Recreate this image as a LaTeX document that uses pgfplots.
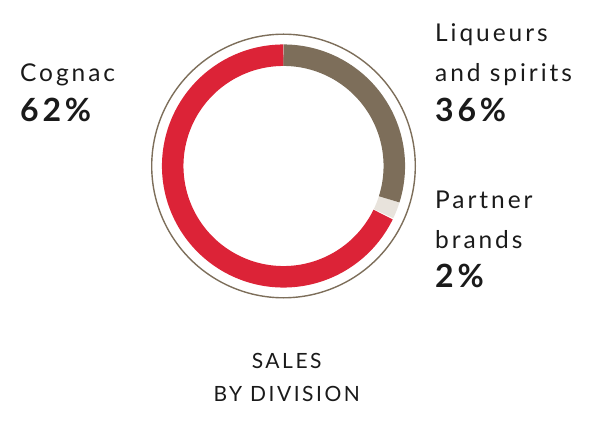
\documentclass[border=0pt]{standalone}
\usepackage{fontspec}
\setmainfont{Lato}[LetterSpace=12]
\usepackage{pgfplots}
\pgfplotsset{compat=1.18}
\definecolor{cred}{HTML}{DC2337}
\definecolor{cbrown}{HTML}{7D6E5A}
\definecolor{clight}{HTML}{E8E3DC}
\definecolor{ctext}{HTML}{1A1A1A}
\begin{document}
\begin{tikzpicture}
\begin{axis}[
  scale only axis, width=600bp, height=425bp,
  xmin=0, xmax=600, ymin=-425, ymax=0,
  enlargelimits=false, hide axis, clip=false,
]
% outer thin ring
\addplot[cbrown, line width=1.4bp, domain=0:360, samples=181] ({283.5+131.8*cos(x)},{-166+131.8*sin(x)});
% Cognac 62% (as drawn)
\addplot[cred, line width=21.5bp, domain=-270:-26, samples=160] ({283.5+110.8*cos(x)},{-166+110.8*sin(x)});
% Partner brands 2%
\addplot[clight, line width=21.5bp, domain=-25.5:-17.5, samples=10] ({283.5+110.8*cos(x)},{-166+110.8*sin(x)});
% Liqueurs and spirits 36%
\addplot[cbrown, line width=21.5bp, domain=-17.5:90, samples=80] ({283.5+110.8*cos(x)},{-166+110.8*sin(x)});
\begin{scope}[every node/.style={anchor=base west, inner sep=0pt, text=ctext}]
\node at (axis cs:20,-82) {\fontsize{24.5bp}{28bp}\selectfont Cognac};
\node at (axis cs:20,-122) {\fontsize{32bp}{34bp}\selectfont\bfseries 62\%};
\node at (axis cs:435,-41.7) {\fontsize{24.5bp}{28bp}\selectfont Liqueurs};
\node at (axis cs:435,-81.7) {\fontsize{24.5bp}{28bp}\selectfont and spirits};
\node at (axis cs:435,-121.7) {\fontsize{32bp}{34bp}\selectfont\bfseries 36\%};
\node at (axis cs:435,-208.3) {\fontsize{24.5bp}{28bp}\selectfont Partner};
\node at (axis cs:435,-248.3) {\fontsize{24.5bp}{28bp}\selectfont brands};
\node at (axis cs:435,-287.7) {\fontsize{32bp}{34bp}\selectfont\bfseries 2\%};
\end{scope}
\begin{scope}[every node/.style={anchor=base, inner sep=0pt, text=ctext}]
\node at (axis cs:286.7,-368.3) {\fontsize{21bp}{24bp}\selectfont SALES};
\node at (axis cs:286.7,-401.7) {\fontsize{21bp}{24bp}\selectfont BY DIVISION};
\end{scope}
\end{axis}
\pgfresetboundingbox
\useasboundingbox (current axis.south west) rectangle (current axis.north east);
\end{tikzpicture}
\end{document}
